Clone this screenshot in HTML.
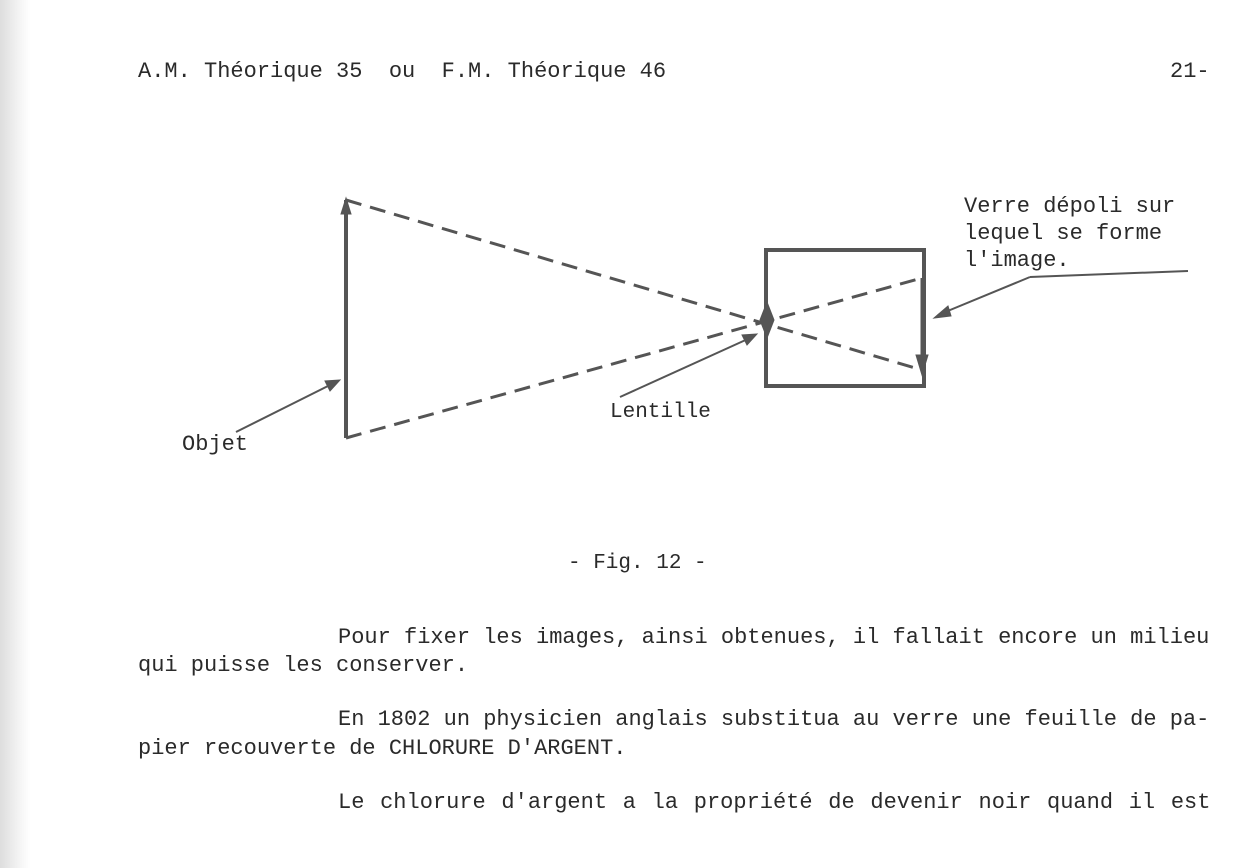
<!DOCTYPE html>
<html><head><meta charset="utf-8"><style>
html,body{margin:0;padding:0;background:#fff}
body{width:1235px;height:868px;position:relative;overflow:hidden}
.t{position:absolute;font-family:"Liberation Mono",monospace;font-size:22px;color:#2a2a2a;white-space:pre;line-height:1}
.s{position:absolute;left:0;top:0;width:30px;height:868px;background:linear-gradient(90deg,#ddd,#f6f6f6 70%,#fff)}
</style></head><body>
<div class="s"></div>
<div class="t" style="left:138px;top:61px">A.M. Théorique 35  ou  F.M. Théorique 46</div>
<div class="t" style="left:1170px;top:61px">21-</div>
<svg width="1235" height="868" style="position:absolute;left:0;top:0">
<g stroke="#555" fill="none">
<line x1="346" y1="200" x2="346" y2="438" stroke-width="4"/>
<polygon points="341,214 346,198 351,214" fill="#555"/>
<rect x="766" y="250" width="158" height="136" stroke-width="4"/>
<line x1="922" y1="278" x2="922" y2="370" stroke-width="3"/>
<polygon points="916,355 922,375 928,355" fill="#555"/>
<g stroke-width="3" stroke-dasharray="16,9">
<line x1="346" y1="200" x2="922" y2="370"/>
<line x1="346" y1="438" x2="922" y2="278"/>
</g>
<polygon points="767,302 774,320 767,338 760,320" fill="#555"/>
<line x1="1030" y1="277" x2="1188" y2="271" stroke-width="2"/>
<line x1="1030" y1="277" x2="938" y2="315" stroke-width="2"/>
<polygon points="934,318 948,306 951,316" fill="#555"/>
<line x1="620" y1="397" x2="750" y2="338" stroke-width="2"/>
<polygon points="757,334 742,335 747,345" fill="#555"/>
<line x1="236" y1="432" x2="334" y2="383" stroke-width="2"/>
<polygon points="340,380 325,381 330,391" fill="#555"/>
</g></svg>
<div class="t" style="left:964px;top:193px;line-height:27px">Verre dépoli sur
lequel se forme
l'image.</div>
<div class="t" style="left:610px;top:402px;font-size:21px">Lentille</div>
<div class="t" style="left:182px;top:434px">Objet</div>
<div class="t" style="left:568px;top:553px;font-size:21px">- Fig. 12 -</div>
<div class="t" style="left:338px;top:627px">Pour fixer les images, ainsi obtenues, il fallait encore un milieu</div>
<div class="t" style="left:138px;top:655px">qui puisse les conserver.</div>
<div class="t" style="left:338px;top:709px">En 1802 un physicien anglais substitua au verre une feuille de pa-</div>
<div class="t" style="left:138px;top:738px">pier recouverte de CHLORURE D'ARGENT.</div>
<div class="t" style="left:338px;top:792px;word-spacing:2.5px">Le chlorure d'argent a la propriété de devenir noir quand il est</div>
</body></html>
